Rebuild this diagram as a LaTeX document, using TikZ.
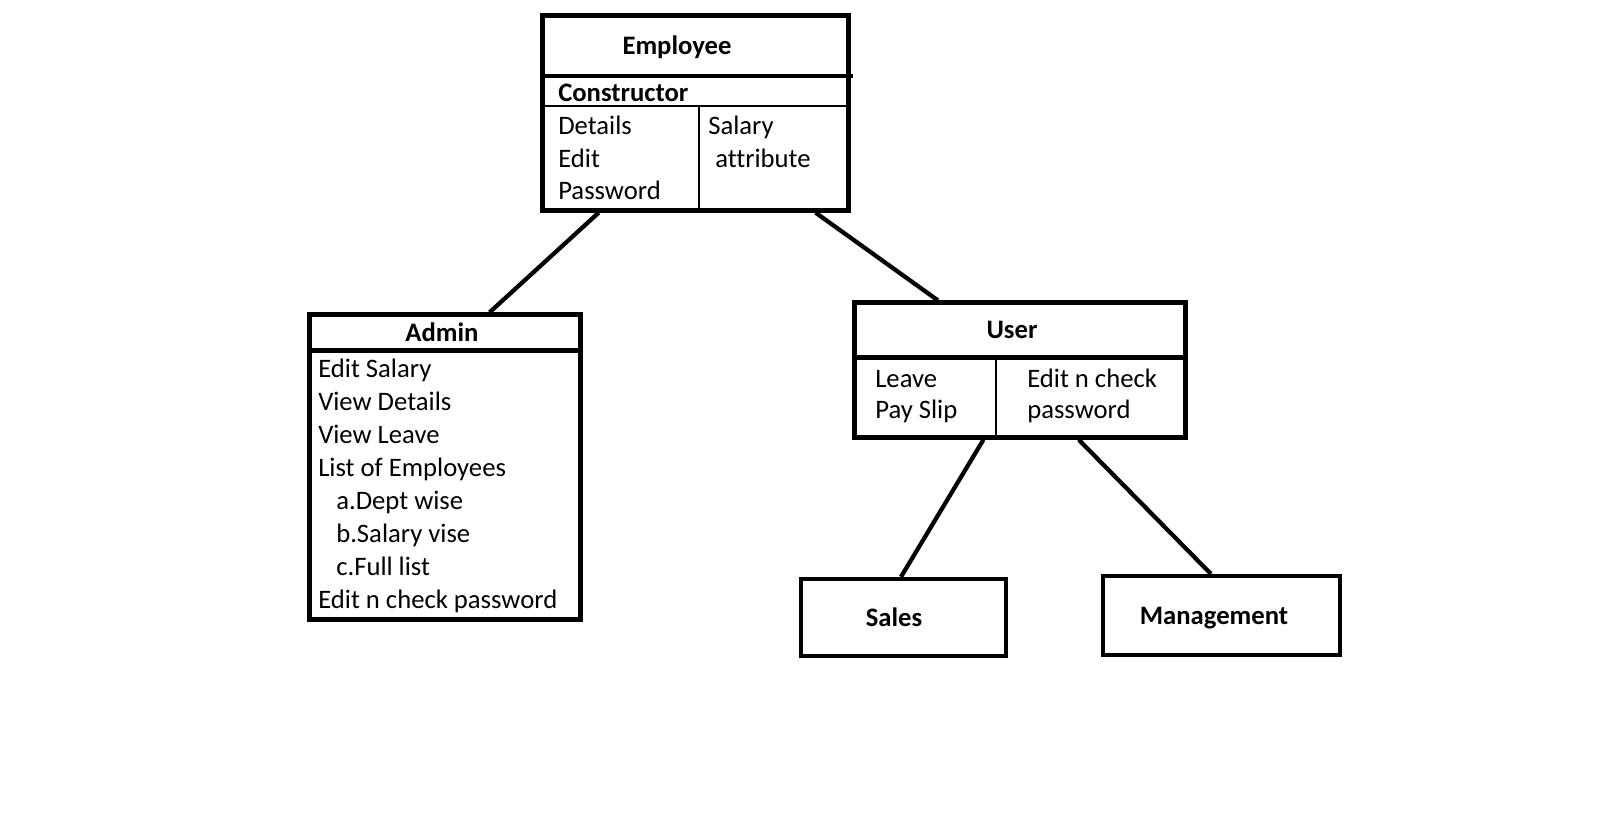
\documentclass[tikz,border=0pt]{standalone}
\usepackage{fontspec}
\setmainfont{Carlito}[Ligatures=NoCommon]
\usepackage{tikz}
\usetikzlibrary{positioning, fit, calc}

\begin{document}
\begin{tikzpicture}[
    x=0.75pt, y=-0.75pt,
    every node/.style={font=\fontsize{20}{24}\selectfont},
    box/.style={draw, line width=3.2pt, inner sep=0pt},
    bar/.style={line width=3.2pt},
    rule/.style={line width=0.9pt},
    title/.style={anchor=base, font=\fontsize{20}{24}\selectfont\bfseries},
    item/.style={anchor=base west, inner sep=0pt},
    link/.style={line width=3.2pt}
  ]
  \useasboundingbox (0,0) rectangle (1622,822);

  % Boxes
  \node[box, fit={(542.5,15.5) (848.5,210.5)}] (emp) {};
  \node[box, fit={(309.5,314.5) (580.5,619.5)}] (admin) {};
  \node[box, fit={(854.5,302.5) (1185.5,437.5)}] (user) {};
  \node[box, fit={(801,579) (1006,656)}] (sales) {};
  \node[box, fit={(1103,576) (1340,655)}] (mgmt) {};

  % Dividers
  \draw[bar] (542.5,76) -- (853,76);
  \draw[rule] (542.5,106) -- (848.5,106);
  \draw[rule] (699,106) -- (699,210.5);
  \draw[bar] (309.5,350.5) -- (580.5,350.5);
  \draw[bar] (854.5,357.5) -- (1188,357.5);
  \draw[rule] (996,357.5) -- (996,437.5);

  % Texts
  \node[title] (empT) at (677,54) {Employee};
  \node[item, font=\fontsize{20}{24}\selectfont\bfseries] (ctor) at (558,101) {Constructor};
  \node[item] (e1) at (558,134) {Details};
  \node[item] (e2) at (558,167) {Edit};
  \node[item] (e3) at (558,199) {Password};
  \node[item] (e4) at (708,134) {Salary};
  \node[item] (e5) at (715,167) {attribute};

  \node[title] (adminT) at (442,341) {Admin};
  \foreach \t/\x [count=\i] in {Edit Salary/318, View Details/318, View Leave/318,
      List of Employees/318, a.Dept wise/336, b.Salary vise/336,
      c.Full list/336, Edit n check password/318}
    \node[item] (a\i) at (\x,{344+33*\i}) {\t};

  \node[title] (userT) at (1012,338) {User};
  \node[item] (u1) at (875,387) {Leave};
  \node[item] (u2) at (875,418) {Pay Slip};
  \node[item] (u3) at (1027,387) {Edit n check};
  \node[item] (u4) at (1027,418) {password};

  \node[title] (salesT) at (894,626) {Sales};
  \node[title] (mgmtT) at (1214,624) {Management};

  % Edges
  \draw[link] ($(emp.south west)!0.188!(emp.south east)$) -- ($(admin.north west)!0.662!(admin.north east)$);
  \draw[link] ($(emp.south west)!0.887!(emp.south east)$) -- ($(user.north west)!0.255!(user.north east)$);
  \draw[link] ($(user.south west)!0.391!(user.south east)$) -- ($(sales.north west)!0.488!(sales.north east)$);
  \draw[link] ($(user.south west)!0.675!(user.south east)$) -- ($(mgmt.north west)!0.456!(mgmt.north east)$);
\end{tikzpicture}
\end{document}
